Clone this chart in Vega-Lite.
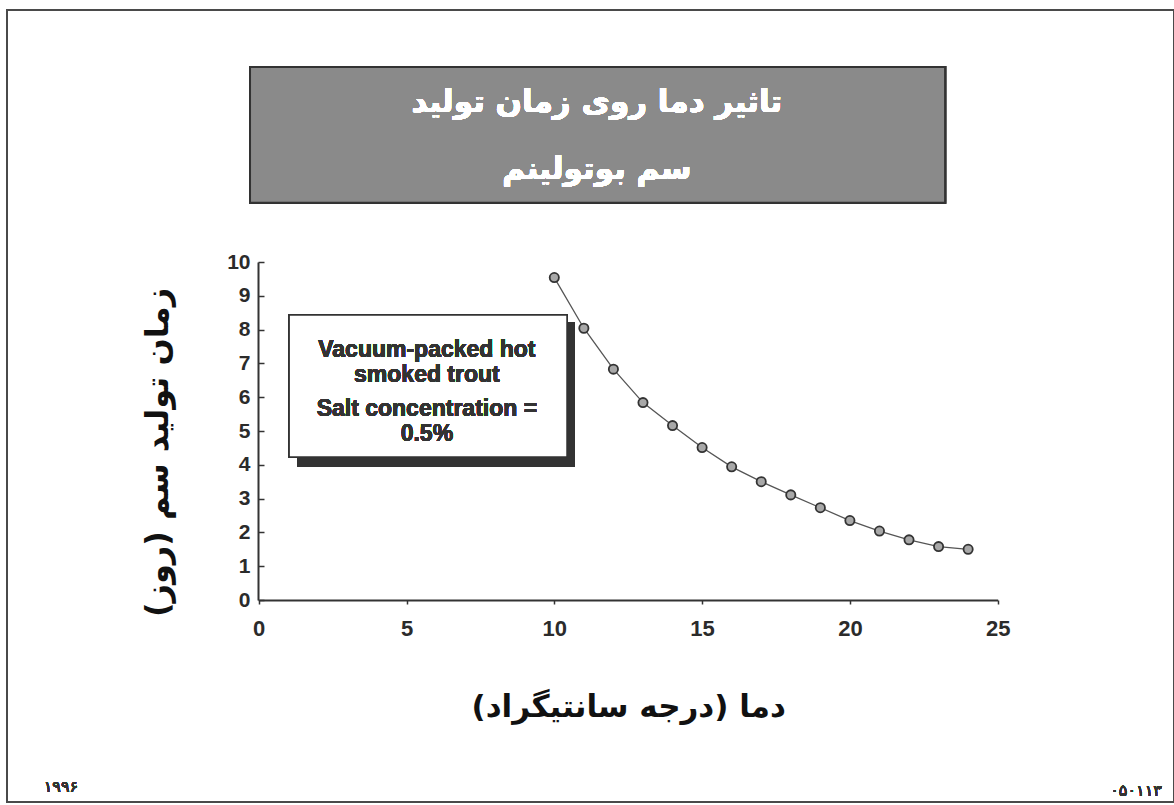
{
  "$schema": "https://vega.github.io/schema/vega-lite/v6.json",
  "width": 1167,
  "height": 792,
  "padding": {"left": 7, "top": 10, "right": 0, "bottom": 3},
  "autosize": {"type": "none"},
  "background": "white",
  "config": {
    "font": "Liberation Sans",
    "view": {"stroke": "#4a4a4a", "strokeWidth": 2},
    "axis": {"grid": false}
  },
  "data": {
    "values": [
      {"temp": 10, "days": 9.54},
      {"temp": 11, "days": 8.04},
      {"temp": 12, "days": 6.83},
      {"temp": 13, "days": 5.84},
      {"temp": 14, "days": 5.16},
      {"temp": 15, "days": 4.51},
      {"temp": 16, "days": 3.94},
      {"temp": 17, "days": 3.5},
      {"temp": 18, "days": 3.11},
      {"temp": 19, "days": 2.73},
      {"temp": 20, "days": 2.35},
      {"temp": 21, "days": 2.04},
      {"temp": 22, "days": 1.78},
      {"temp": 23, "days": 1.58},
      {"temp": 24, "days": 1.5}
    ]
  },
  "layer": [
    {
      "mark": {"type": "line", "color": "#555555", "strokeWidth": 1.3},
      "encoding": {
        "x": {
          "field": "temp",
          "type": "quantitative",
          "scale": {"domain": [0, 25], "range": [251.7, 990.7], "nice": false, "zero": false},
          "axis": {
            "orient": "bottom",
            "offset": -202,
            "values": [0, 5, 10, 15, 20, 25],
            "format": "d",
            "title": "دما (درجه سانتیگراد)",
            "titleFont": "DejaVu Sans",
            "titleFontSize": 31,
            "titleFontWeight": "bold",
            "titleColor": "#111111",
            "titlePadding": 53,
            "labelFont": "Liberation Sans",
            "labelFontSize": 22,
            "labelFontWeight": "bold",
            "labelColor": "#2b2b2b",
            "labelPadding": 14,
            "labelFlush": false,
            "domainColor": "#333333",
            "domainWidth": 2,
            "tickColor": "#333333",
            "tickWidth": 1.5,
            "tickSize": 4
          }
        },
        "y": {
          "field": "days",
          "type": "quantitative",
          "scale": {"domain": [0, 10], "range": [590, 252], "nice": false, "zero": false},
          "axis": {
            "orient": "left",
            "offset": -251,
            "values": [0, 1, 2, 3, 4, 5, 6, 7, 8, 9, 10],
            "format": "d",
            "title": "زمان تولید سم (روز)",
            "titleFont": "DejaVu Sans",
            "titleFontSize": 32,
            "titleFontWeight": "bold",
            "titleColor": "#111111",
            "titlePadding": 52,
            "titleY": 442,
            "labelFont": "Liberation Sans",
            "labelFontSize": 21,
            "labelFontWeight": "bold",
            "labelColor": "#2b2b2b",
            "labelPadding": 14,
            "labelFlush": false,
            "domainColor": "#333333",
            "domainWidth": 2,
            "tickColor": "#333333",
            "tickWidth": 1.5,
            "tickSize": -6
          }
        }
      }
    },
    {
      "mark": {"type": "point", "shape": "circle", "filled": true, "size": 85, "fill": "#a8a8a8", "stroke": "#333333", "strokeWidth": 1.8, "opacity": 1},
      "encoding": {
        "x": {"field": "temp", "type": "quantitative"},
        "y": {"field": "days", "type": "quantitative"}
      }
    },
    {
      "mark": {"type": "rect", "fill": "#8a8a8a", "stroke": "#333333", "strokeWidth": 2},
      "encoding": {
        "x": {"datum": -0.294, "type": "quantitative"},
        "x2": {"datum": 23.22},
        "y": {"datum": 15.77, "type": "quantitative"},
        "y2": {"datum": 11.75}
      }
    },
    {
      "mark": {"type": "text", "font": "DejaVu Sans", "fontWeight": "bold", "fontSize": 31, "color": "white", "align": "center", "baseline": "middle"},
      "encoding": {
        "x": {"datum": 11.44, "type": "quantitative"},
        "y": {"datum": 14.7, "type": "quantitative"},
        "text": {"value": "تاثیر دما روی زمان تولید"}
      }
    },
    {
      "mark": {"type": "text", "font": "DejaVu Sans", "fontWeight": "bold", "fontSize": 31, "color": "white", "align": "center", "baseline": "middle"},
      "encoding": {
        "x": {"datum": 11.44, "type": "quantitative"},
        "y": {"datum": 12.72, "type": "quantitative"},
        "text": {"value": "سم بوتولینم"}
      }
    },
    {
      "mark": {"type": "rect", "fill": "#333333"},
      "encoding": {
        "x": {"datum": 1.3, "type": "quantitative"},
        "x2": {"datum": 10.7},
        "y": {"datum": 8.22, "type": "quantitative"},
        "y2": {"datum": 3.96}
      }
    },
    {
      "mark": {"type": "rect", "fill": "white", "stroke": "#333333", "strokeWidth": 1.5},
      "encoding": {
        "x": {"datum": 1.03, "type": "quantitative"},
        "x2": {"datum": 10.43},
        "y": {"datum": 8.43, "type": "quantitative"},
        "y2": {"datum": 4.23}
      }
    },
    {
      "mark": {"type": "text", "font": "Liberation Sans", "fontWeight": "bold", "fontSize": 23, "color": "#333333", "align": "center", "baseline": "middle", "lineHeight": 25},
      "encoding": {
        "x": {"datum": 5.69, "type": "quantitative"},
        "y": {"datum": 7.39, "type": "quantitative"},
        "text": {"value": ["Vacuum-packed hot", "smoked trout"]}
      }
    },
    {
      "mark": {"type": "text", "font": "Liberation Sans", "fontWeight": "bold", "fontSize": 23, "color": "#333333", "align": "center", "baseline": "middle", "lineHeight": 25},
      "encoding": {
        "x": {"datum": 5.69, "type": "quantitative"},
        "y": {"datum": 5.64, "type": "quantitative"},
        "text": {"value": ["Salt concentration =", "0.5%"]}
      }
    },
    {
      "mark": {"type": "text", "font": "DejaVu Sans", "fontSize": 16, "color": "#333333", "align": "center", "baseline": "middle"},
      "encoding": {
        "x": {"datum": -6.69, "type": "quantitative"},
        "y": {"datum": -5.53, "type": "quantitative"},
        "text": {"value": "۱۹۹۶"}
      }
    },
    {
      "mark": {"type": "text", "font": "DejaVu Sans", "fontSize": 16, "color": "#333333", "align": "center", "baseline": "middle"},
      "encoding": {
        "x": {"datum": 29.68, "type": "quantitative"},
        "y": {"datum": -5.65, "type": "quantitative"},
        "text": {"value": "۰۵۰۱۱۳"}
      }
    }
  ]
}
